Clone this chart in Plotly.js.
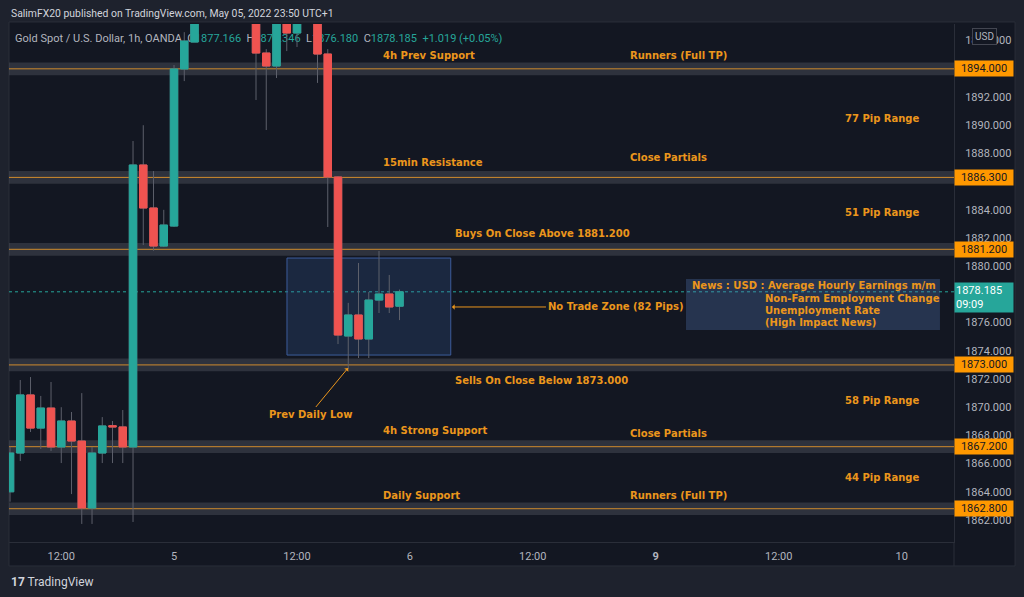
<!DOCTYPE html>
<html><head><meta charset="utf-8">
<script src="https://cdn.plot.ly/plotly-3.0.1.min.js"></script>
<style>html,body{margin:0;padding:0;background:#1e222d;}#chart{width:1024px;height:597px;}</style>
</head><body><div id="chart"></div>
<script>
// bar index (0 = May 5 00:00, 1h bars)
const barIdx = [-16,-15,-14,-13,-12,-11,-10,-9,-8,-7,-6,-5,-4,-3,-2,-1,0,1,2,3,4,5,6,7,8,9,10,11,12,13,14,15,16,17,18,19,20,21,22];
const openP  = [1864.00,1866.75,1870.87,1868.52,1869.94,1867.18,1869.02,1867.60,1862.85,1866.75,1868.69,1868.60,1867.18,1887.18,1884.13,1881.43,1882.85,1893.99,1895.90,1899.60,1903.40,1906.80,1904.90,1902.70,1901.30,1895.12,1894.20,1898.90,1896.54,1898.40,1899.60,1895.05,1886.33,1875.05,1876.54,1874.84,1877.60,1878.03,1877.166];
const highP  = [1867.20,1871.93,1872.14,1870.80,1871.79,1870.00,1869.66,1871.00,1867.18,1869.30,1869.02,1869.80,1888.88,1890.00,1886.75,1884.00,1894.27,1896.60,1901.20,1905.00,1909.80,1908.20,1906.40,1904.10,1902.00,1895.40,1900.20,1900.00,1899.30,1901.00,1900.80,1895.40,1886.40,1877.40,1880.23,1878.17,1881.08,1879.38,1878.346];
const lowP   = [1863.30,1866.18,1868.24,1867.04,1866.89,1866.04,1863.84,1861.72,1861.72,1866.04,1866.04,1866.04,1861.86,1881.50,1881.10,1881.36,1882.78,1893.13,1895.90,1898.80,1902.50,1903.10,1901.00,1899.90,1891.79,1889.66,1893.35,1895.26,1895.55,1897.60,1893.00,1882.78,1874.48,1872.70,1873.49,1873.49,1876.68,1876.68,1876.180];
const closeP = [1866.75,1870.87,1868.52,1869.94,1867.18,1869.02,1867.60,1862.85,1866.75,1868.67,1868.60,1867.18,1887.18,1884.13,1881.43,1882.92,1893.99,1895.97,1899.60,1903.40,1906.80,1904.90,1902.70,1901.30,1895.12,1894.20,1899.00,1896.54,1898.40,1899.60,1895.05,1886.33,1875.12,1876.54,1874.84,1877.60,1878.03,1877.11,1878.185];

const levelPrices = [1894.0, 1886.3, 1881.2, 1873.0, 1867.2, 1862.8];
const levelLabels = ['1894.000','1886.300','1881.200','1873.000','1867.200','1862.800'];
const lastPrice = 1878.185;
const lastPriceLabel = '1878.185<br>09:09';
const priceTicks = [1862,1864,1866,1868,1870,1872,1874,1876,1880,1882,1884,1886,1888,1890,1892,1896];
const timeTickPos = [-11,0,12,23,35,47,59,71];
const timeTickText = ['12:00','5','12:00','6','12:00','<b>9</b>','12:00','10'];

const headerText = 'SalimFX20 published on TradingView.com, May 05, 2022 23:50 UTC+1';
const noteTexts = [
  {t:'4h Prev Support', x:20.2, y:1894.98},
  {t:'Runners (Full TP)', x:44.3, y:1894.98},
  {t:'77 Pip Range', x:65.27, y:1890.51},
  {t:'15min Resistance', x:20.2, y:1887.39},
  {t:'Close Partials', x:44.3, y:1887.74},
  {t:'51 Pip Range', x:65.27, y:1883.84},
  {t:'Buys On Close Above 1881.200', x:27.22, y:1882.35},
  {t:'Sells On Close Below 1873.000', x:27.22, y:1871.93},
  {t:'58 Pip Range', x:65.27, y:1870.51},
  {t:'4h Strong Support', x:20.2, y:1868.38},
  {t:'Close Partials', x:44.3, y:1868.17},
  {t:'44 Pip Range', x:65.27, y:1865.05},
  {t:'Daily Support', x:20.2, y:1863.77},
  {t:'Runners (Full TP)', x:44.3, y:1863.77}
];
const newsLines = [
  {t:'News : USD : Average Hourly Earnings m/m', x:50.34, y:1878.60},
  {t:'Non-Farm Employment Change', x:57.46, y:1877.74},
  {t:'Unemployment Rate', x:57.46, y:1876.89},
  {t:'(High Impact News)', x:57.46, y:1876.04}
];
const zoneBox = {x0:11.02, x1:27.0, y0:1873.7, y1:1880.58};
const newsBox = {x0:49.95, x1:74.73, y0:1875.48, y1:1879.09};

const ORANGE_TXT = '#eb961c';
const NOTE_FONT = {family:'DejaVu Sans', size:10, color:ORANGE_TXT, weight:'bold'};
const GREEN = '#26a69a', RED = '#ef5350', WICK = '#5d606b';
const bodyHigh = openP.map((o,k)=>Math.max(o, closeP[k]));
const bodyLow  = openP.map((o,k)=>Math.min(o, closeP[k]));

const traces = [
  {type:'candlestick', x:barIdx, open:openP, high:highP, low:lowP, close:closeP,
   increasing:{line:{color:WICK,width:1}, fillcolor:WICK},
   decreasing:{line:{color:WICK,width:1}, fillcolor:WICK},
   whiskerwidth:0, hoverinfo:'skip', showlegend:false},
  {type:'candlestick', x:barIdx, open:openP, high:bodyHigh, low:bodyLow, close:closeP,
   increasing:{line:{color:GREEN,width:1}, fillcolor:GREEN},
   decreasing:{line:{color:RED,width:1}, fillcolor:RED},
   whiskerwidth:0, hoverinfo:'skip', showlegend:false}
];

const shapes = [
  {type:'rect', xref:'paper', yref:'paper', x0:0, x1:1.0646, y0:-0.0463, y1:1.0039,
   fillcolor:'#131722', line:{color:'#2a2e39', width:1}, layer:'below'},
  {type:'line', xref:'paper', yref:'paper', x0:1, x1:1, y0:-0.0463, y1:0, line:{color:'#2a2e39', width:1}}
];
levelPrices.forEach(p => {
  shapes.push({type:'rect', xref:'paper', x0:0, x1:1, yref:'y', y0:p-0.45, y1:p+0.45,
    fillcolor:'rgba(120,123,134,0.28)', line:{width:0}, layer:'below'});
  shapes.push({type:'line', xref:'paper', x0:0, x1:1, yref:'y', y0:p, y1:p,
    line:{color:'#d08b2c', width:1}, layer:'below'});
});
shapes.push({type:'line', xref:'paper', x0:0, x1:1, yref:'y', y0:lastPrice, y1:lastPrice,
  line:{color:GREEN, width:1, dash:'dot'}, layer:'below'});
shapes.push({type:'rect', xref:'x', yref:'y', x0:zoneBox.x0, x1:zoneBox.x1, y0:zoneBox.y0, y1:zoneBox.y1,
  fillcolor:'rgba(59,108,184,0.2)', line:{color:'#3d5d9c', width:1}, layer:'below'});
shapes.push({type:'rect', xref:'x', yref:'y', x0:newsBox.x0, x1:newsBox.x1, y0:newsBox.y0, y1:newsBox.y1,
  fillcolor:'rgba(82,120,184,0.3)', line:{width:0}, layer:'below'});
// legend line drawn beneath candles via shape label
shapes.push({type:'rect', xref:'x', yref:'y', x0:-15.8, x1:40, y0:1895.8, y1:1896.7,
  fillcolor:'rgba(0,0,0,0)', line:{width:0}, layer:'below',
  label:{text:'<span style="color:#b2b5be">Gold Spot / U.S. Dollar, 1h, OANDA  O</span><span style="color:#26a69a">1877.166</span><span style="color:#b2b5be">  H</span><span style="color:#26a69a">1878.346</span><span style="color:#b2b5be">  L</span><span style="color:#26a69a">1876.180</span><span style="color:#b2b5be">  C</span><span style="color:#26a69a">1878.185  +1.019 (+0.05%)</span>',
    textposition:'middle left', padding:0, font:{family:'Roboto', size:11, color:'#b2b5be'}}});

const annotations = [];
noteTexts.forEach(n => annotations.push({x:n.x, y:n.y, xref:'x', yref:'y', text:n.t, showarrow:false,
  xanchor:'left', yanchor:'middle', font:NOTE_FONT}));
newsLines.forEach(n => annotations.push({x:n.x, y:n.y, xref:'x', yref:'y', text:n.t, showarrow:false,
  xanchor:'left', yanchor:'middle', font:NOTE_FONT}));
annotations.push({x:27.12, y:1877.11, xref:'x', yref:'y', text:'No Trade Zone (82 Pips)', showarrow:true,
  ax:94, ay:0, xanchor:'left', yanchor:'middle', arrowhead:1, arrowsize:0.9, arrowwidth:1, arrowcolor:ORANGE_TXT,
  font:NOTE_FONT});
annotations.push({x:16.98, y:1872.78, xref:'x', yref:'y', text:'Prev Daily Low', showarrow:true,
  ax:-38, ay:46, arrowhead:1, arrowsize:0.9, arrowwidth:1, arrowcolor:ORANGE_TXT,
  font:NOTE_FONT});
levelPrices.forEach((p,k) => annotations.push({x:1, xref:'paper', y:p, yref:'y', text:levelLabels[k],
  showarrow:false, xanchor:'left', yanchor:'middle', bgcolor:'#ff9800', borderpad:1, width:56, height:13,
  font:{family:'Roboto', size:11, color:'#131722'}}));
annotations.push({x:1, xref:'paper', y:lastPrice, yref:'y', yshift:-6, text:lastPriceLabel, showarrow:false,
  xanchor:'left', yanchor:'middle', bgcolor:GREEN, borderpad:1, width:56, align:'left',
  font:{family:'Roboto', size:11, color:'#ffffff'}});
annotations.push({x:1.0328, xref:'paper', y:1896.26, yref:'y', text:'USD', showarrow:false,
  xanchor:'center', yanchor:'middle', bgcolor:'#131722', bordercolor:'#434651', borderwidth:1, borderpad:2,
  font:{family:'Roboto', size:10, color:'#b2b5be'}});
annotations.push({x:0, xref:'paper', y:1.0212, yref:'paper', text:headerText, showarrow:false,
  xanchor:'left', yanchor:'middle', font:{family:'Roboto', size:10.4, color:'#d1d4dc'}});
annotations.push({x:0, xref:'paper', y:-0.077, yref:'paper', text:'<b>17</b> TradingView', showarrow:false,
  xanchor:'left', yanchor:'middle', font:{family:'Roboto', size:12, color:'#d1d4dc'}});

const layout = {
  width:1024, height:597,
  margin:{l:9, r:70, t:24, b:55},
  paper_bgcolor:'#1e222d', plot_bgcolor:'#131722',
  showlegend:false, hovermode:false, dragmode:false,
  boxgap:0.27, boxgroupgap:0,
  xaxis:{range:[-16.1,76.1], tickmode:'array', tickvals:timeTickPos, ticktext:timeTickText,
    showgrid:false, zeroline:false, showline:true, linecolor:'#2a2e39', ticks:'',
    tickfont:{family:'Roboto', size:11, color:'#b2b5be'}, rangeslider:{visible:false}, fixedrange:true,
    ticklabelstandoff:4},
  yaxis:{side:'right', range:[1860.44,1897.18], tickmode:'array', tickvals:priceTicks, tickformat:'.3f',
    showgrid:false, zeroline:false, showline:true, linecolor:'#2a2e39', ticks:'',
    tickfont:{family:'Roboto', size:11, color:'#b2b5be'}, fixedrange:true, ticklabelstandoff:8},
  shapes:shapes, annotations:annotations
};
Plotly.newPlot('chart', traces, layout, {displayModeBar:false, staticPlot:true});
</script></body></html>
